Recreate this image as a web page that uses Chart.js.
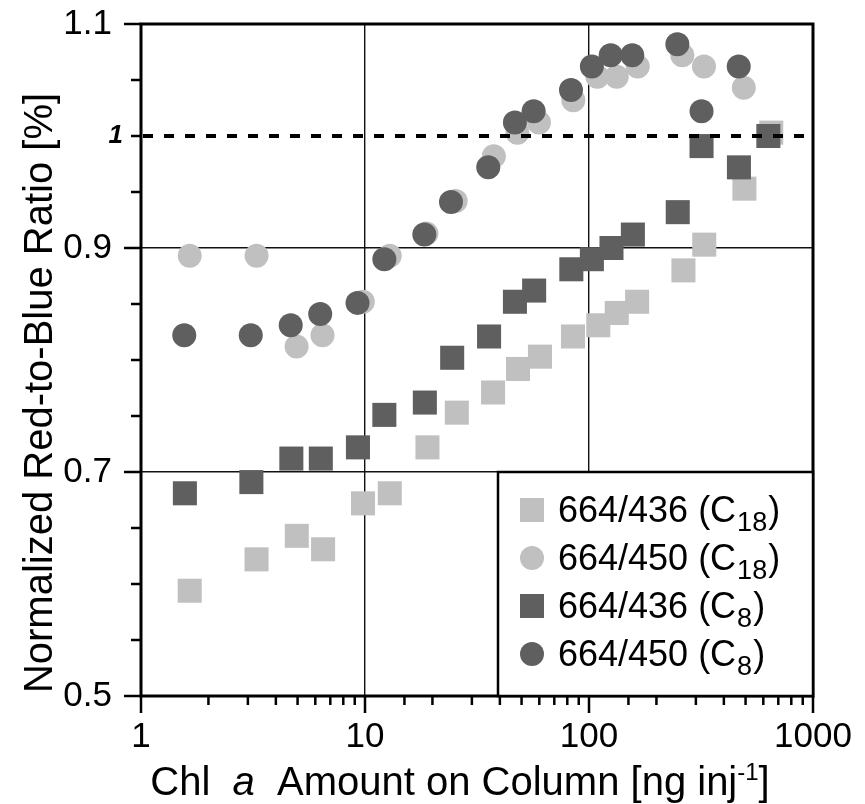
<!DOCTYPE html>
<html lang="en">
<head>
    <meta charset="UTF-8">
    <title>Red-to-Blue Ratio vs Chl a Amount</title>
    <script src="https://cdn.jsdelivr.net/npm/chart.js"></script>
    <style>
        body { margin: 0; background: #fff; }
    </style>
</head>
<body>
    <canvas id="ratioChart" width="865" height="804"></canvas>

    <script>
        // Chl a amount on column [ng inj-1] and normalized ratios
        const c18Amount436 = [1.65, 3.28, 4.96, 6.5, 9.8, 12.9, 19, 25.7, 37.3, 48.2, 60.4, 84.8, 110, 133, 164, 264, 327, 494, 651];
        const c18Ratio436  = [0.594, 0.622, 0.643, 0.631, 0.672, 0.681, 0.722, 0.753, 0.771, 0.792, 0.803, 0.821, 0.831, 0.842, 0.852, 0.880, 0.903, 0.953, 1.003];

        const c18Amount450 = [1.65, 3.28, 4.95, 6.46, 9.78, 12.9, 18.8, 25.4, 37.6, 47.9, 59.8, 85.1, 109, 133, 165, 261, 326, 491];
        const c18Ratio450  = [0.893, 0.893, 0.812, 0.822, 0.852, 0.893, 0.913, 0.942, 0.982, 1.003, 1.012, 1.032, 1.053, 1.053, 1.062, 1.072, 1.062, 1.043];

        const c8Amount436 = [1.57, 3.11, 4.69, 6.35, 9.3, 12.2, 18.5, 24.5, 35.8, 46.7, 56.9, 83.4, 103, 126, 157, 249, 318, 467, 632];
        const c8Ratio436  = [0.681, 0.691, 0.712, 0.712, 0.722, 0.751, 0.762, 0.802, 0.821, 0.852, 0.862, 0.881, 0.890, 0.900, 0.912, 0.932, 0.991, 0.972, 1.000];

        const c8Amount450 = [1.56, 3.09, 4.66, 6.31, 9.26, 12.2, 18.4, 24.2, 35.5, 46.7, 56.6, 83.1, 103, 125, 156, 248, 318, 466];
        const c8Ratio450  = [0.822, 0.822, 0.831, 0.841, 0.851, 0.890, 0.912, 0.941, 0.972, 1.012, 1.022, 1.041, 1.062, 1.072, 1.072, 1.082, 1.022, 1.062];

        const xTickLabels = [1, 10, 100, 1000];
        const yTickLabels = [0.5, 0.7, 0.9, 1.1];
        const xGridValues = [10, 100];
        const yGridValues = [0.7, 0.9];
        const refLine = 1;

        const LIGHT = '#c0c0c0';
        const DARK = '#5f5f5f';
        const FONT = "'Liberation Sans', Arial, Helvetica, sans-serif";

        const near = (a, b) => Math.abs(a - b) < 1e-6;
        const inList = (v, list) => list.some(t => near(v, t));

        function toPoints(xs, ys) {
            return xs.map((v, i) => ({ x: v, y: ys[i] }));
        }

        // fixed axis box sizes, no extra label overhang padding
        function fixBox(size, horizontal) {
            return scale => {
                if (horizontal) scale.height = size; else scale.width = size;
                scale.paddingTop = 0;
                scale.paddingBottom = 0;
                scale.paddingLeft = 0;
                scale.paddingRight = 0;
            };
        }

        // legend entries: label, subscript, style, colour
        const legendItems = [
            { text: '664/436 (C', sub: '18', shape: 'rect', color: LIGHT },
            { text: '664/450 (C', sub: '18', shape: 'circle', color: LIGHT },
            { text: '664/436 (C', sub: '8', shape: 'rect', color: DARK },
            { text: '664/450 (C', sub: '8', shape: 'circle', color: DARK }
        ];

        // draws axes frame, ticks, dashed line, legend and axis titles
        const framePlugin = {
            id: 'frame',
            afterDatasetsDraw(chart) {
                const { ctx, chartArea: a, scales: { x, y } } = chart;
                ctx.save();

                // dashed line at ratio 1
                const y1 = y.getPixelForValue(refLine);
                ctx.strokeStyle = '#000';
                ctx.setLineDash([10, 11]);
                ctx.lineWidth = 4;
                ctx.beginPath();
                ctx.moveTo(a.left + 2, y1);
                ctx.lineTo(a.right, y1);
                ctx.stroke();
                ctx.setLineDash([]);

                // tick marks
                ctx.lineWidth = 2.5;
                ctx.beginPath();
                y.ticks.forEach(t => {
                    const py = y.getPixelForValue(t.value);
                    const len = inList(t.value, yTickLabels) ? 17 : 10;
                    ctx.moveTo(a.left, py);
                    ctx.lineTo(a.left - len, py);
                });
                x.ticks.forEach(t => {
                    const px = x.getPixelForValue(t.value);
                    const len = inList(t.value, xTickLabels) ? 17 : 9;
                    ctx.moveTo(px, a.bottom);
                    ctx.lineTo(px, a.bottom + len);
                });
                ctx.stroke();

                // frame
                ctx.lineWidth = 3;
                ctx.strokeRect(a.left, a.top, a.right - a.left, a.bottom - a.top);

                // italic label for the dashed line
                ctx.fillStyle = '#000';
                ctx.font = 'italic bold 26px ' + FONT;
                ctx.textAlign = 'right';
                ctx.textBaseline = 'middle';
                ctx.fillText('1', a.left - 18, y1);

                // legend box
                const boxLeft = a.right - 315;
                const boxTop = y.getPixelForValue(0.7);
                ctx.fillStyle = '#fff';
                ctx.fillRect(boxLeft, boxTop, a.right - boxLeft, a.bottom - boxTop);
                ctx.lineWidth = 2.5;
                ctx.strokeRect(boxLeft, boxTop, a.right - boxLeft, a.bottom - boxTop);

                ctx.textAlign = 'left';
                ctx.textBaseline = 'alphabetic';
                legendItems.forEach((item, i) => {
                    const cy = boxTop + 38 + i * 48;
                    const mx = boxLeft + 34;
                    ctx.fillStyle = item.color;
                    if (item.shape === 'rect') {
                        ctx.fillRect(mx - 12, cy - 12, 24, 24);
                    } else {
                        ctx.beginPath();
                        ctx.arc(mx, cy, 12, 0, Math.PI * 2);
                        ctx.fill();
                    }
                    ctx.fillStyle = '#000';
                    let tx = boxLeft + 60;
                    ctx.font = '36px ' + FONT;
                    ctx.fillText(item.text, tx, cy + 12);
                    tx += ctx.measureText(item.text).width + 1;
                    ctx.font = '27px ' + FONT;
                    ctx.fillText(item.sub, tx, cy + 21);
                    tx += ctx.measureText(item.sub).width + 1;
                    ctx.font = '36px ' + FONT;
                    ctx.fillText(')', tx, cy + 12);
                });

                // x axis title with italic a and superscript
                const parts = [
                    { t: 'Chl  ', f: '40px ' + FONT, dy: 0 },
                    { t: 'a', f: 'italic 40px ' + FONT, dy: 0 },
                    { t: '  Amount on Column [ng inj', f: '40px ' + FONT, dy: 0 },
                    { t: '-1', f: '24px ' + FONT, dy: -15 },
                    { t: ']', f: '40px ' + FONT, dy: 0 }
                ];
                let total = 0;
                parts.forEach(p => { ctx.font = p.f; p.w = ctx.measureText(p.t).width; total += p.w; });
                let px = 460 - total / 2;
                parts.forEach(p => {
                    ctx.font = p.f;
                    ctx.fillText(p.t, px, 795 + p.dy);
                    px += p.w;
                });

                // y axis title
                ctx.save();
                ctx.translate(52, 393);
                ctx.rotate(-Math.PI / 2);
                ctx.textAlign = 'center';
                ctx.font = '40px ' + FONT;
                ctx.fillText('Normalized Red-to-Blue Ratio [%]', 0, 0);
                ctx.restore();

                ctx.restore();
            }
        };

        const ctx = document.getElementById('ratioChart').getContext('2d');

        new Chart(ctx, {
            type: 'scatter',
            data: {
                datasets: [
                    {
                        label: '664/450 (C8)',
                        data: toPoints(c8Amount450, c8Ratio450),
                        pointStyle: 'circle',
                        pointRadius: 12,
                        backgroundColor: DARK,
                        pointBorderWidth: 0,
                        order: 0
                    },
                    {
                        label: '664/436 (C8)',
                        data: toPoints(c8Amount436, c8Ratio436),
                        pointStyle: 'rect',
                        pointRadius: 17,
                        backgroundColor: DARK,
                        pointBorderWidth: 0,
                        order: 1
                    },
                    {
                        label: '664/450 (C18)',
                        data: toPoints(c18Amount450, c18Ratio450),
                        pointStyle: 'circle',
                        pointRadius: 12,
                        backgroundColor: LIGHT,
                        pointBorderWidth: 0,
                        order: 2
                    },
                    {
                        label: '664/436 (C18)',
                        data: toPoints(c18Amount436, c18Ratio436),
                        pointStyle: 'rect',
                        pointRadius: 17,
                        backgroundColor: LIGHT,
                        pointBorderWidth: 0,
                        order: 3
                    }
                ]
            },
            options: {
                responsive: false,
                animation: false,
                events: [],
                layout: { padding: { top: 24, right: 52, left: 0, bottom: 0 } },
                plugins: {
                    legend: { display: false },
                    tooltip: { enabled: false }
                },
                scales: {
                    x: {
                        type: 'logarithmic',
                        min: 1,
                        max: 1000,
                        afterFit: fixBox(108, true),
                        border: { display: false },
                        grid: {
                            drawTicks: false,
                            lineWidth: 1.4,
                            color: c => inList(c.tick.value, xGridValues) ? '#111' : 'rgba(0,0,0,0)'
                        },
                        ticks: {
                            autoSkip: false,
                            maxRotation: 0,
                            minRotation: 0,
                            padding: 20,
                            color: '#000',
                            font: { size: 35, family: FONT },
                            callback: v => inList(v, xTickLabels) ? String(v) : ''
                        }
                    },
                    y: {
                        min: 0.5,
                        max: 1.1,
                        afterFit: fixBox(141, false),
                        border: { display: false },
                        grid: {
                            drawTicks: false,
                            lineWidth: 1.4,
                            color: c => inList(c.tick.value, yGridValues) ? '#111' : 'rgba(0,0,0,0)'
                        },
                        ticks: {
                            stepSize: 0.05,
                            padding: 29,
                            color: '#000',
                            font: { size: 35, family: FONT },
                            callback: v => inList(v, yTickLabels) ? v.toFixed(1) : ''
                        }
                    }
                }
            },
            plugins: [framePlugin]
        });
    </script>
</body>
</html>
